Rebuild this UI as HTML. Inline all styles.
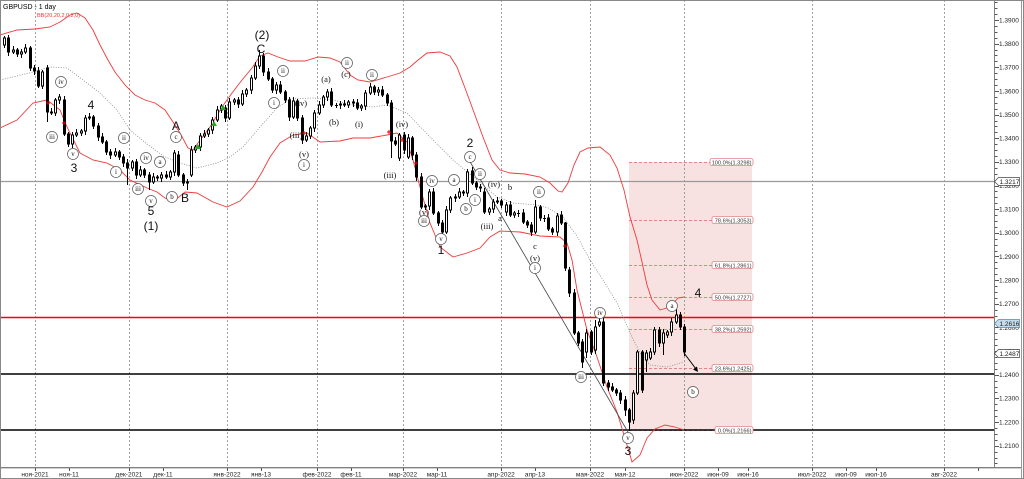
<!DOCTYPE html>
<html><head><meta charset="utf-8">
<style>
html,body{margin:0;padding:0;background:#fff;}
svg{display:block;}
.ax{font-family:"Liberation Sans",sans-serif;font-size:6.5px;fill:#222;}
.dt{font-family:"Liberation Sans",sans-serif;font-size:6.5px;fill:#222;text-anchor:middle;}
.ew{font-family:"Liberation Serif",serif;font-size:8.5px;fill:#111;text-anchor:middle;dominant-baseline:central;}
.ci{font-family:"Liberation Serif",serif;font-size:7px;fill:#111;text-anchor:middle;dominant-baseline:central;}
.big{font-family:"Liberation Sans",sans-serif;font-size:12px;fill:#111;text-anchor:middle;dominant-baseline:central;}
.fl{font-family:"Liberation Sans",sans-serif;font-size:5.6px;fill:#333;text-anchor:end;}
.cc{fill:#fff;stroke:#555;stroke-width:0.7;}
.fb{fill:#fff;stroke:#e08585;stroke-width:0.8;}
</style></head><body>
<svg width="1024" height="479" viewBox="0 0 1024 479">
<rect x="0" y="0" width="1024" height="479" fill="#fff"/>
<!-- fib box -->
<rect x="629" y="162" width="123" height="268" fill="#f7e1e1"/>
<g stroke="#e06666" stroke-width="0.8" stroke-dasharray="3 2">
<line x1="629" y1="162.5" x2="752" y2="162.5"/>
<line x1="629" y1="220.5" x2="752" y2="220.5"/>
<line x1="629" y1="265.5" x2="752" y2="265.5"/>
<line x1="629" y1="297.5" x2="752" y2="297.5"/>
<line x1="629" y1="329.5" x2="752" y2="329.5"/>
<line x1="629" y1="368.5" x2="752" y2="368.5"/>
<line x1="629" y1="430.5" x2="752" y2="430.5"/>
</g>
<!-- vertical grid -->
<g stroke="#8a8a8a" stroke-width="0.8" stroke-dasharray="2 2">
<line x1="35.5" y1="0" x2="35.5" y2="467"/>
<line x1="129.5" y1="0" x2="129.5" y2="467"/>
<line x1="227.5" y1="0" x2="227.5" y2="467"/>
<line x1="317.5" y1="0" x2="317.5" y2="467"/>
<line x1="403.5" y1="0" x2="403.5" y2="467"/>
<line x1="501.5" y1="0" x2="501.5" y2="467"/>
<line x1="590.5" y1="0" x2="590.5" y2="467"/>
<line x1="684.5" y1="0" x2="684.5" y2="467"/>
<line x1="812.5" y1="0" x2="812.5" y2="467"/>
<line x1="944.5" y1="0" x2="944.5" y2="467"/>
</g>
<!-- level lines -->
<line x1="0" y1="181.5" x2="994" y2="181.5" stroke="#9a9a9a" stroke-width="1.3"/>
<line x1="0" y1="317.5" x2="994" y2="317.5" stroke="#ff0000" stroke-width="1.6"/>
<line x1="0" y1="374" x2="994" y2="374" stroke="#000" stroke-width="1.6"/>
<line x1="0" y1="430" x2="994" y2="430" stroke="#000" stroke-width="1.6"/>
<!-- bollinger -->
<g fill="none" stroke="#ee3b3b" stroke-width="0.9">
<polyline points="0,35 17,30 35,29 50,27 60,22 70,15 77,13 85,18 93,30 100,45 108,60 115,72 125,85 135,95 145,100 155,103 165,110 173,122 180,133 188,148 193,150 198,143 210,127 222,107 232,93 242,80 252,68 260,56 268,53 278,57 290,61 305,61 318,57 330,58 340,62 350,75 358,80 370,82 387,77 400,73 410,67 418,60 427,53 440,52 450,56 457,67 465,88 472,107 483,137 492,160 500,170 510,173 525,174 540,177 550,183 558,191 562,192 568,183 574,165 580,152 588,148 600,147 610,155 617,168 624,190 630,217 637,240 642,262 647,285 652,300 660,310 670,307 678,298 684,297"/>
<polyline points="0,128 17,120 33,103 47,100 60,110 67,127 80,153 93,160 107,163 120,170 130,180 147,188 157,192 165,198 173,202 185,192 197,193 213,202 227,207 240,201 253,187 262,172 270,157 280,143 293,135 307,133 320,142 340,141 353,138 370,138 387,135 397,133 407,142 413,160 420,187 430,223 440,247 453,257 467,253 480,248 490,237 500,231 520,232 540,236 560,237 567,243 572,260 577,290 582,310 587,330 597,357 607,387 617,412 624,435 632,462 640,455 647,438 655,429 665,425 675,427 684,430"/>
</g>
<polyline fill="none" stroke="#7f8f7f" stroke-width="0.8" stroke-dasharray="1 1.5" points="0,80 17,76 33,72 50,67 67,68 83,80 100,93 117,110 130,130 147,144 163,156 180,163 197,168 217,163 230,157 243,147 260,127 277,108 290,99 313,98 333,100 353,105 373,107 387,105 407,113 430,137 453,160 477,180 497,197 513,203 537,205 548,208 563,217 577,236 590,260 603,280 617,303 630,333 640,353 650,365 667,367 684,362"/>
<!-- diagonal -->
<line x1="469" y1="160" x2="628" y2="432" stroke="#444" stroke-width="0.8"/>
<!-- candles -->
<g id="cand" stroke="#000" stroke-width="1"></g>
<!-- markers -->
<g stroke="#d00" stroke-width="1">
<path d="M46 103h4M48 101v4M62 123h4M64 121v4M302 133h4M304 131v4M387 132h4M389 130v4M400 140h4M402 138v4M414 163h4M416 161v4M563 246h4M565 244v4"/>
</g>
<g fill="#2a2">
<polygon points="198,144 195,149 201,149"/>
<polygon points="214,121 211,126 217,126"/>
<polygon points="223,105 220,110 226,110"/>
</g>
<!-- arrow -->
<line x1="684" y1="353" x2="696" y2="369" stroke="#000" stroke-width="1"/>
<polygon points="698,372 693,369.5 697,366.5" fill="#000"/>
<!-- circled labels -->
<g>
<circle class="cc" cx="61" cy="82" r="5.5"/><text class="ci" x="61" y="82">iv</text>
<circle class="cc" cx="52" cy="137" r="5.5"/><text class="ci" x="52" y="137">iii</text>
<circle class="cc" cx="73" cy="154" r="5.5"/><text class="ci" x="73" y="154">v</text>
<circle class="cc" cx="124" cy="138" r="5.5"/><text class="ci" x="124" y="138">ii</text>
<circle class="cc" cx="116" cy="172" r="5.5"/><text class="ci" x="116" y="172">i</text>
<circle class="cc" cx="146" cy="158" r="5.5"/><text class="ci" x="146" y="158">iv</text>
<circle class="cc" cx="160" cy="162" r="5.5"/><text class="ci" x="160" y="162">a</text>
<circle class="cc" cx="138" cy="189" r="5.5"/><text class="ci" x="138" y="189">iii</text>
<circle class="cc" cx="151" cy="201" r="5.5"/><text class="ci" x="151" y="201">v</text>
<circle class="cc" cx="172" cy="197" r="5.5"/><text class="ci" x="172" y="197">b</text>
<circle class="cc" cx="176" cy="137" r="5.5"/><text class="ci" x="176" y="137">c</text>
<circle class="cc" cx="283" cy="71" r="5.5"/><text class="ci" x="283" y="71">ii</text>
<circle class="cc" cx="274" cy="103" r="5.5"/><text class="ci" x="274" y="103">i</text>
<circle class="cc" cx="304" cy="165" r="5.5"/><text class="ci" x="304" y="165">i</text>
<circle class="cc" cx="347" cy="63" r="5.5"/><text class="ci" x="347" y="63">ii</text>
<circle class="cc" cx="372" cy="75" r="5.5"/><text class="ci" x="372" y="75">ii</text>
<circle class="cc" cx="470" cy="157" r="5.5"/><text class="ci" x="470" y="157">c</text>
<circle class="cc" cx="480" cy="174" r="5.5"/><text class="ci" x="480" y="174">ii</text>
<circle class="cc" cx="454" cy="180" r="5.5"/><text class="ci" x="454" y="180">a</text>
<circle class="cc" cx="432" cy="181" r="5.5"/><text class="ci" x="432" y="181">iv</text>
<circle class="cc" cx="466" cy="209" r="5.5"/><text class="ci" x="466" y="209">b</text>
<circle class="cc" cx="475" cy="200" r="5.5"/><text class="ci" x="475" y="200">i</text>
<circle class="cc" cx="424" cy="221" r="5.5"/><text class="ci" x="424" y="221">iii</text>
<circle class="cc" cx="441" cy="239" r="5.5"/><text class="ci" x="441" y="239">v</text>
<circle class="cc" cx="539" cy="192" r="5.5"/><text class="ci" x="539" y="192">ii</text>
<circle class="cc" cx="535" cy="268" r="5.5"/><text class="ci" x="535" y="268">i</text>
<circle class="cc" cx="600" cy="313" r="5.5"/><text class="ci" x="600" y="313">iv</text>
<circle class="cc" cx="581" cy="377" r="5.5"/><text class="ci" x="581" y="377">iii</text>
<circle class="cc" cx="628" cy="438" r="5.5"/><text class="ci" x="628" y="438">v</text>
<circle class="cc" cx="672" cy="306" r="5.5"/><text class="ci" x="672" y="306">a</text>
<circle class="cc" cx="693" cy="392" r="5.5"/><text class="ci" x="693" y="392">b</text>
</g>
<!-- parenthesized labels -->
<text class="ew" x="326" y="79">(a)</text>
<text class="ew" x="334" y="122">(b)</text>
<text class="ew" x="346" y="74">(c)</text>
<text class="ew" x="359" y="124">(i)</text>
<text class="ew" x="296" y="135">(iii)</text>
<text class="ew" x="301" y="103">(iv)</text>
<text class="ew" x="304" y="154">(v)</text>
<text class="ew" x="402" y="124">(iv)</text>
<text class="ew" x="390" y="175">(iii)</text>
<text class="ew" x="494" y="184">(iv)</text>
<text class="ew" x="487" y="226">(iii)</text>
<text class="ew" x="424" y="212">(v)</text>
<text class="ew" x="535" y="258">(v)</text>
<text class="ew" x="510" y="187">b</text>
<text class="ew" x="500" y="218">a</text>
<text class="ew" x="535" y="246">c</text>
<!-- big labels -->
<text class="big" x="91" y="105">4</text>
<text class="big" x="74" y="168">3</text>
<text class="big" x="151" y="211">5</text>
<text class="big" x="151" y="226">(1)</text>
<text class="big" x="176" y="126">A</text>
<text class="big" x="185" y="198">B</text>
<text class="big" x="261" y="49">C</text>
<text class="big" x="262" y="35">(2)</text>
<text class="big" x="470" y="143">2</text>
<text class="big" x="441" y="250">1</text>
<text class="big" x="628" y="451">3</text>
<text class="big" x="698" y="293">4</text>
<!-- fib labels -->
<rect class="fb" x="710" y="158.5" width="43" height="7" rx="2"/><text class="fl" x="751.5" y="164.3">100.0%(1.3298)</text>
<rect class="fb" x="712" y="216.5" width="41" height="7" rx="2"/><text class="fl" x="751.5" y="222.3">78.6%(1.3053)</text>
<rect class="fb" x="712" y="261.5" width="41" height="7" rx="2"/><text class="fl" x="751.5" y="267.3">61.8%(1.2861)</text>
<rect class="fb" x="712" y="293.5" width="41" height="7" rx="2"/><text class="fl" x="751.5" y="299.3">50.0%(1.2727)</text>
<rect class="fb" x="712" y="325.5" width="41" height="7" rx="2"/><text class="fl" x="751.5" y="331.3">38.2%(1.2592)</text>
<rect class="fb" x="712" y="364.5" width="41" height="7" rx="2"/><text class="fl" x="751.5" y="370.3">23.6%(1.2425)</text>
<rect class="fb" x="715" y="426.5" width="38" height="7" rx="2"/><text class="fl" x="751.5" y="432.3">0.0%(1.2166)</text>
<!-- title -->
<text x="3" y="9" style="font-family:'Liberation Sans',sans-serif;font-size:7px;fill:#000">GBPUSD - 1 day</text>
<text x="37" y="17" style="font-family:'Liberation Sans',sans-serif;font-size:5.5px;fill:#e33">BB(20,20,2,0,2,0)</text>
<!-- axes frame -->
<rect x="995" y="0" width="29" height="479" fill="#fff"/>
<rect x="0" y="468" width="1024" height="11" fill="#fff"/>
<line x1="994.5" y1="0" x2="994.5" y2="468" stroke="#808080" stroke-width="1"/>
<line x1="0" y1="467.5" x2="1022" y2="467.5" stroke="#808080" stroke-width="1"/>
<line x1="0" y1="468.5" x2="1022" y2="468.5" stroke="#d0d0d0" stroke-width="1"/>
<line x1="1021.5" y1="0" x2="1021.5" y2="479" stroke="#999" stroke-width="1"/>
<rect x="0.5" y="0.5" width="1023" height="478" fill="none" stroke="#888" stroke-width="1"/>
<g id="ticks" stroke="#555" stroke-width="1"></g>
<!-- y labels -->
<g class="ax">
<text x="999" y="22.3">1.3900</text>
<text x="999" y="46">1.3800</text>
<text x="999" y="69.6">1.3700</text>
<text x="999" y="93.3">1.3600</text>
<text x="999" y="116.9">1.3500</text>
<text x="999" y="140.6">1.3400</text>
<text x="999" y="164.2">1.3300</text>
<text x="999" y="187.9">1.3200</text>
<text x="999" y="211.5">1.3100</text>
<text x="999" y="235.2">1.3000</text>
<text x="999" y="258.8">1.2900</text>
<text x="999" y="282.5">1.2800</text>
<text x="999" y="306.1">1.2700</text>
<text x="999" y="329.8">1.2600</text>
<text x="999" y="353.4">1.2500</text>
<text x="999" y="377.1">1.2400</text>
<text x="999" y="400.7">1.2300</text>
<text x="999" y="424.4">1.2200</text>
<text x="999" y="448">1.2100</text>
</g>
<!-- price tags -->
<polygon points="994.5,181.5 998.5,177.5 1019.5,177.5 1019.5,185.5 998.5,185.5" fill="#fff" stroke="#444" stroke-width="0.7"/>
<text class="ax" x="999.5" y="184">1.3217</text>
<polygon points="994.5,323.5 998.5,319.5 1019.5,319.5 1019.5,327.5 998.5,327.5" fill="#c4dcec" stroke="#5d84a0" stroke-width="0.7"/>
<text class="ax" x="999.5" y="326">1.2616</text>
<polygon points="994.5,353.5 998.5,349.5 1019.5,349.5 1019.5,357.5 998.5,357.5" fill="#fff" stroke="#444" stroke-width="0.7"/>
<text class="ax" x="999.5" y="356">1.2487</text>
<!-- dates -->
<g class="dt">
<text x="35" y="476.5">ноя-2021</text>
<text x="69" y="476.5">ноя-11</text>
<text x="129" y="476.5">дек-2021</text>
<text x="163" y="476.5">дек-11</text>
<text x="227" y="476.5">янв-2022</text>
<text x="261" y="476.5">янв-13</text>
<text x="317" y="476.5">фев-2022</text>
<text x="351" y="476.5">фев-11</text>
<text x="403" y="476.5">мар-2022</text>
<text x="437" y="476.5">мар-11</text>
<text x="501" y="476.5">апр-2022</text>
<text x="535" y="476.5">апр-13</text>
<text x="590" y="476.5">мая-2022</text>
<text x="625" y="476.5">мая-12</text>
<text x="684" y="476.5">июн-2022</text>
<text x="718" y="476.5">июн-09</text>
<text x="748" y="476.5">июн-16</text>
<text x="812" y="476.5">июл-2022</text>
<text x="846" y="476.5">июл-09</text>
<text x="876" y="476.5">июл-16</text>
<text x="944" y="476.5">авг-2022</text>
</g>
</svg>
<script>
(function(){
var C=[38,52,50,54,52,48,68,71,86,72,
112,113,100,97,134,144,135,133,131,118,
117,126,137,142,152,155,152,157,163,168,
162,175,170,175,182,177,178,175,177,172,
153,175,183,182,150,147,136,134,130,120,
110,106,118,102,100,104,94,90,78,66,
56,72,79,90,85,92,100,117,101,118,
140,136,128,113,105,97,92,105,105,104,
105,102,103,108,106,93,87,92,90,95,
103,141,144,135,150,138,155,177,207,206,
192,213,223,232,210,198,197,192,193,172,
183,187,188,212,209,202,201,205,205,215,
213,213,222,225,232,207,218,218,229,232,
216];
var O={0:45,10:68,14:100,41:155,44:175,52:108,93:158,95:157,104:232,109:193,110:171,113:192,118:212,125:232,130:232};
var H={60:50,125:200,141:318,158:303,139:320,149:350,153:327,157:318,159:312,132:222};
var L={10:122,29:185,34:190,43:190,91:158,96:160,136:368,147:431,146:416,151:372,155:355,137:358};
var E=[[215,223],[223,268],[270,293],[293,333],[333,343],[342,362],[352,333],[332,352],[350,327],[325,322],[322,383],[383,387],[387,390],[390,393],[393,400],[400,410],[410,422],[420,393],[393,352],[352,390],[360,353],[358,352],[352,330],[330,343],[343,333],[335,332],[332,322],[322,315],[315,327],[327,352]];
var prev=45,out='';
for(var i=0;i<161;i++){
 var o,c;
 if(i<131){o=(i in O)?O[i]:prev;c=C[i];}else{o=E[i-131][0];c=E[i-131][1];}
 prev=c;
 var t=Math.min(o,c),b=Math.max(o,c);
 var h=(i in H)?H[i]:t-2-(i%3);
 var l=(i in L)?L[i]:b+2+((i+1)%3);
 var x=Math.round(4+4.25*i);
 out+='<line x1="'+(x+0.5)+'" y1="'+h+'" x2="'+(x+0.5)+'" y2="'+l+'"/>';
 if(b-t<1) out+='<line x1="'+(x-1)+'" y1="'+(t+0.5)+'" x2="'+(x+2)+'" y2="'+(t+0.5)+'"/>';
 else out+='<rect x="'+(x-0.5)+'" y="'+t+'" width="2" height="'+(b-t)+'" fill="'+(c>o?'#000':'#fff')+'"/>';
}
document.getElementById('cand').innerHTML=out;
var tk='';
for(var k=0;k<80;k++){var y=20+k*5.9125-5.9125*3; if(y<1||y>466)continue; var major=((k-3)%4===0); tk+='<line x1="995" y1="'+(Math.round(y)+0.5)+'" x2="'+(major?999:997.5)+'" y2="'+(Math.round(y)+0.5)+'"/>';}
var dx=[35,69,129,163,227,261,317,351,403,437,501,535,590,625,684,718,748,812,846,876,944,978];
for(var j=0;j<dx.length;j++){tk+='<line x1="'+(dx[j]+0.5)+'" y1="468" x2="'+(dx[j]+0.5)+'" y2="471"/>';}
document.getElementById('ticks').innerHTML=tk;
})();
</script>
</body></html>
